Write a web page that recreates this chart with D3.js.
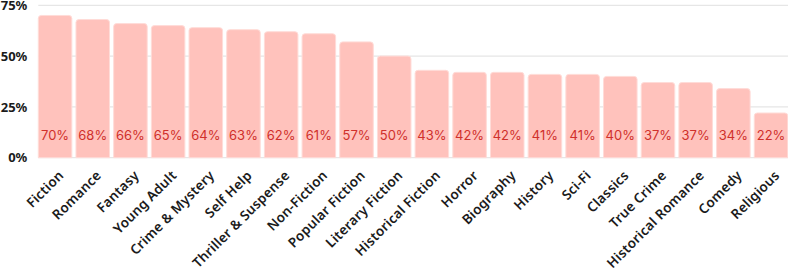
<!DOCTYPE html>
<html>
<head>
<meta charset="utf-8">
<script src="https://cdn.jsdelivr.net/npm/d3@7"></script>
<style>
  body { margin: 0; background: #fff; }
  svg { display: block; }
</style>
</head>
<body>
<svg id="chart"></svg>
<script>
// genres and share of readers
var genres = ["Fiction", "Romance", "Fantasy", "Young Adult", "Crime & Mystery", "Self Help",
    "Thriller & Suspense", "Non-Fiction", "Popular Fiction", "Literary Fiction", "Historical Fiction",
    "Horror", "Biography", "History", "Sci-Fi", "Classics", "True Crime", "Historical Romance",
    "Comedy", "Religious"];
var shares = [70, 68, 66, 65, 64, 63, 62, 61, 57, 50, 43, 42, 42, 41, 41, 40, 37, 37, 34, 22];
var yTicks = [0, 25, 50, 75];

var width = 788, height = 271;
var margin = {top: 5.3, right: 0.2, bottom: 113.3, left: 38.3};

var svg = d3.select("#chart")
    .attr("width", width)
    .attr("height", height);

var x = d3.scaleBand()
    .domain(genres)
    .range([margin.left, width - margin.right])
    .paddingInner(0.11)
    .paddingOuter(0);

var y = d3.scaleLinear()
    .domain([0, 75])
    .range([height - margin.bottom, margin.top]);

// grid lines
svg.append("g")
    .selectAll("line")
    .data(yTicks)
    .enter()
    .append("line")
    .attr("x1", margin.left)
    .attr("x2", width)
    .attr("y1", function (d) { return y(d); })
    .attr("y2", function (d) { return y(d); })
    .style("stroke", "#e6e6e6")
    .style("stroke-width", 1.2);

// y axis labels
var yAxis = svg.append("g")
    .attr("transform", "translate(" + (margin.left - 11) + ",0)")
    .call(d3.axisLeft(y).tickValues(yTicks).tickSize(0).tickPadding(0).tickFormat(function (d) { return d + "%"; }));
yAxis.select(".domain").remove();
yAxis.selectAll("text")
    .style("font-family", "'Noto Sans', sans-serif")
    .style("font-weight", "700")
    .style("font-size", "13px")
    .style("fill", "#1b1b1b");

// bars with rounded top
function barPath(d) {
    var x0 = x(d.genre), w = x.bandwidth(), y0 = y(d.value), y1 = y(0), r = 3;
    return "M" + x0 + "," + y1 +
        "V" + (y0 + r) +
        "Q" + x0 + "," + y0 + " " + (x0 + r) + "," + y0 +
        "H" + (x0 + w - r) +
        "Q" + (x0 + w) + "," + y0 + " " + (x0 + w) + "," + (y0 + r) +
        "V" + y1 + "Z";
}

var rows = genres.map(function (g, i) { return {genre: g, value: shares[i]}; });

svg.append("g")
    .selectAll("path")
    .data(rows)
    .enter()
    .append("path")
    .attr("d", barPath)
    .style("fill", "#ffc2bc")
    .style("stroke", "#ffdcd8")
    .style("stroke-width", 1);

// value labels
svg.append("g")
    .selectAll("text")
    .data(rows)
    .enter()
    .append("text")
    .attr("x", function (d) { return x(d.genre) + x.bandwidth() / 2; })
    .attr("y", 139.5)
    .attr("text-anchor", "middle")
    .style("font-family", "Inter, sans-serif")
    .style("font-size", "13px")
    .style("fill", "#d0302b")
    .text(function (d) { return d.value + "%"; });

// category labels rotated
svg.append("g")
    .selectAll("text")
    .data(genres)
    .enter()
    .append("text")
    .attr("transform", function (d) {
        return "translate(" + (x(d) + x.bandwidth() / 2 + 6) + "," + 173 + ") rotate(-45)";
    })
    .attr("text-anchor", "end")
    .attr("dy", "0.35em")
    .style("font-family", "'Noto Sans', sans-serif")
    .style("font-weight", "600")
    .style("font-size", "13.5px")
    .style("letter-spacing", "0.2px")
    .style("fill", "#1b1b1b")
    .text(function (d) { return d; });
</script>
</body>
</html>
